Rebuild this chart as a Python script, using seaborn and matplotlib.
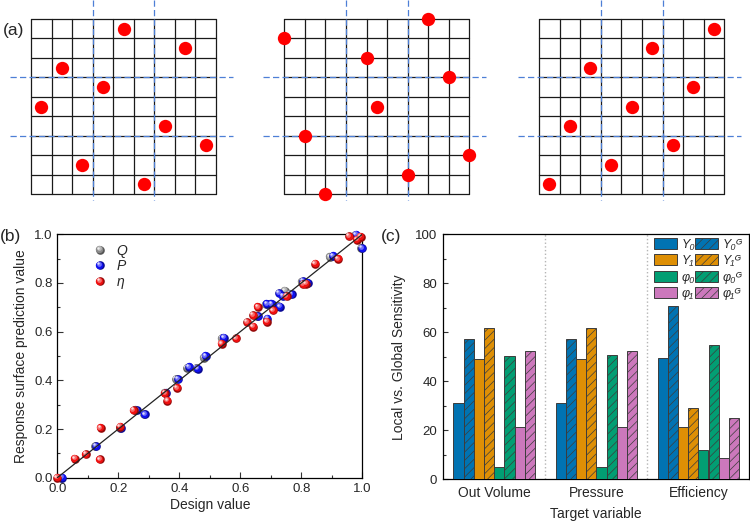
import numpy as np
import pandas as pd
import matplotlib
matplotlib.use("Agg")
import matplotlib.pyplot as plt
import matplotlib.transforms as mtransforms
import matplotlib.colors as mcolors
from matplotlib.lines import Line2D
from matplotlib.patches import Patch
from matplotlib.legend_handler import HandlerBase
import seaborn as sns

# ---------------- data ----------------
# Panel (a): sample positions (column, row from top) inside 9x9 grids
grid1_col = [4.5, 7.5, 1.5, 3.5, 0.5, 6.5, 8.5, 2.5, 5.5]
grid1_row = [0.5, 1.5, 2.5, 3.5, 4.5, 5.5, 6.5, 7.5, 8.5]
grid2_col = [7, 0, 4, 8, 4.5, 1, 9, 6, 2]
grid2_row = [0, 1, 2, 3, 4.5, 6, 7, 8, 9]
grid3_col = [8.5, 5.5, 2.5, 7.5, 4.5, 1.5, 6.5, 3.5, 0.5]
grid3_row = [0.5, 1.5, 2.5, 3.5, 4.5, 5.5, 6.5, 7.5, 8.5]

# Panel (b): design value vs response-surface prediction
Q_design = [0.012, 0.125, 0.206, 0.256, 0.283, 0.352, 0.390, 0.426, 0.455, 0.481,
            0.540, 0.654, 0.684, 0.698, 0.725, 0.746, 0.763, 0.802, 0.818, 0.894,
            0.976, 0.996]
Q_pred = [0.000, 0.130, 0.205, 0.280, 0.262, 0.350, 0.405, 0.452, 0.450, 0.493,
          0.573, 0.665, 0.713, 0.714, 0.705, 0.768, 0.755, 0.806, 0.800, 0.907,
          0.997, 0.944]
P_design = [0.016, 0.128, 0.210, 0.261, 0.287, 0.357, 0.396, 0.432, 0.460, 0.486,
            0.546, 0.659, 0.689, 0.687, 0.703, 0.730, 0.728, 0.740, 0.768, 0.806,
            0.822, 0.905, 0.980, 1.000]
P_pred = [0.000, 0.130, 0.205, 0.278, 0.260, 0.350, 0.404, 0.455, 0.448, 0.500,
          0.575, 0.664, 0.653, 0.714, 0.714, 0.703, 0.758, 0.745, 0.754, 0.807,
          0.800, 0.911, 0.998, 0.943]
eta_design = [0.000, 0.058, 0.094, 0.140, 0.142, 0.206, 0.250, 0.353, 0.361, 0.393,
              0.539, 0.587, 0.623, 0.642, 0.642, 0.658, 0.687, 0.708, 0.752, 0.806,
              0.815, 0.845, 0.921, 0.957, 0.982, 0.995]
eta_pred = [0.000, 0.078, 0.096, 0.075, 0.205, 0.210, 0.277, 0.347, 0.317, 0.369,
            0.551, 0.572, 0.639, 0.668, 0.621, 0.702, 0.641, 0.687, 0.745, 0.795,
            0.797, 0.879, 0.899, 0.992, 0.978, 0.990]

# Panel (c): local vs global sensitivity
targets = ["Out Volume", "Pressure", "Efficiency"]
Y0_local = [31.0, 31.0, 49.7]
Y0_global = [57.3, 57.3, 70.7]
Y1_local = [49.0, 49.0, 21.2]
Y1_global = [61.8, 61.9, 29.1]
phi0_local = [5.0, 5.0, 12.0]
phi0_global = [50.3, 50.6, 54.7]
phi1_local = [21.2, 21.5, 8.6]
phi1_global = [52.5, 52.4, 25.2]
legend_labels = ["Y\u2080", "Y\u2081", "\u03c6\u2080", "\u03c6\u2081",
                 "Y\u2080\u1d33", "Y\u2081\u1d33", "\u03c6\u2080\u1d33", "\u03c6\u2081\u1d33"]

# ---------------- style ----------------
sns.set_theme(style="ticks")
plt.rcParams["font.family"] = ["Liberation Sans", "DejaVu Sans"]
plt.rcParams["hatch.linewidth"] = 0.5
plt.rcParams["axes.linewidth"] = 0.9
plt.rcParams["axes.edgecolor"] = "black"

W, H = 750, 523
fig = plt.figure(figsize=(7.5, 5.23), dpi=100)


def px_axes(x0, y0, x1, y1):
    return fig.add_axes([x0 / W, (H - y1) / H, (x1 - x0) / W, (y1 - y0) / H])

# ---------------- panel (a) ----------------
grid_boxes = [(31, 19, 216, 194), (284.3, 19, 469.3, 194), (539, 19, 724.3, 194)]
grid_data = [(grid1_col, grid1_row), (grid2_col, grid2_row), (grid3_col, grid3_row)]
dash_blue = "#4d7fd6"
for (x0, y0, x1, y1), (gc, gr) in zip(grid_boxes, grid_data):
    ax = px_axes(x0, y0, x1, y1)
    ax.set_xlim(0, 9)
    ax.set_ylim(9, 0)
    ax.axis("off")
    for k in range(10):
        ax.plot([k, k], [0, 9], color="#1a1a1a", lw=0.9, zorder=1, clip_on=False)
        ax.plot([0, 9], [k, k], color="#1a1a1a", lw=0.9, zorder=1, clip_on=False)
    for k in (3, 6):
        ax.plot([k, k], [-0.98, 9.3], color=dash_blue, lw=0.9, dashes=(5, 2.6),
                zorder=2, clip_on=False)
        ax.plot([-1.03, 9.82], [k, k], color=dash_blue, lw=0.9, dashes=(5, 2.6),
                zorder=2, clip_on=False)
    sns.scatterplot(x=gc, y=gr, ax=ax, color="#ff0000", s=92, linewidth=0,
                    zorder=3, clip_on=False, legend=False)

fig.text(3 / W, 1 - 30 / H, "(a)", fontsize=12.5, va="center", ha="left")
fig.text(0 / W, 1 - 236 / H, "(b)", fontsize=12.5, va="center", ha="left")
fig.text(381 / W, 1 - 236 / H, "(c)", fontsize=12.5, va="center", ha="left")

# ---------------- panel (b) ----------------
axb = px_axes(57.3, 234.3, 362.3, 477.7)
axb.set_xlim(0, 1)
axb.set_ylim(0, 1)
axb.plot([0, 1], [0, 1], color="#222222", lw=0.9, zorder=20)

BALL = 6.2  # diameter in points
layers = [  # (diameter scale, offset fraction, white mix, darken)
    (1.00, 0.00, 0.00, 0.62),
    (0.86, -0.06, 0.00, 1.00),
    (0.55, -0.15, 0.40, 1.00),
    (0.28, -0.22, 0.85, 1.00),
]


def layer_color(color, w, dk):
    c = np.array(mcolors.to_rgb(color)) * dk
    return tuple(c * (1 - w) + w)


series = [("Q", Q_design, Q_pred, "#8a8a8a"),
          ("P", P_design, P_pred, "#1010f0"),
          ("η", eta_design, eta_pred, "#f01010")]
z = 3
for name, xs, ys, col in series:
    for sc, off, w, dk in layers:
        tr = mtransforms.offset_copy(axb.transData, fig=fig, x=off * BALL,
                                     y=-off * BALL, units="points")
        axb.scatter(xs, ys, s=(BALL * sc) ** 2, color=[layer_color(col, w, dk)],
                    linewidths=0, transform=tr, zorder=z, clip_on=False)
        z += 0.01
    z += 1


class SphereHandler(HandlerBase):
    def create_artists(self, legend, orig_handle, xdescent, ydescent, width,
                       height, fontsize, trans):
        col = orig_handle.get_markerfacecolor()
        cx = -xdescent + width / 2
        cy = -ydescent + height / 2
        arts = []
        for sc, off, w, dk in layers:
            l = Line2D([cx + off * BALL], [cy - off * BALL], marker="o",
                       markersize=BALL * sc, markerfacecolor=layer_color(col, w, dk),
                       markeredgewidth=0, linestyle="none", transform=trans)
            arts.append(l)
        return arts


b_handles = [Line2D([], [], marker="o", color=c, markerfacecolor=c, linestyle="none")
             for _, _, _, c in series]
handler = SphereHandler()
legb = axb.legend(b_handles, [s[0] for s in series],
                  handler_map={h: handler for h in b_handles},
                  loc="upper left", bbox_to_anchor=(0.117, 0.962), frameon=False,
                  borderpad=0, borderaxespad=0, handlelength=1.0, handletextpad=0.7,
                  labelspacing=0.12, prop={"style": "italic", "size": 10})

axb.xaxis.set_major_locator(matplotlib.ticker.MultipleLocator(0.2))
axb.yaxis.set_major_locator(matplotlib.ticker.MultipleLocator(0.2))
axb.xaxis.set_minor_locator(matplotlib.ticker.MultipleLocator(0.1))
axb.yaxis.set_minor_locator(matplotlib.ticker.MultipleLocator(0.1))
axb.xaxis.set_major_formatter(matplotlib.ticker.FormatStrFormatter("%.1f"))
axb.yaxis.set_major_formatter(matplotlib.ticker.FormatStrFormatter("%.1f"))
axb.tick_params(which="both", direction="in", top=False, right=False,
                labelsize=9.5, pad=3.5, width=0.8, color="#333333")
axb.tick_params(which="major", length=4)
axb.tick_params(which="minor", length=2)
axb.set_xlabel("Design value", fontsize=10, labelpad=2.5)
axb.set_ylabel("Response surface prediction value", fontsize=10, labelpad=4)

# ---------------- panel (c) ----------------
axc = px_axes(443.3, 234.3, 749.3, 479.3)
param_names = ["Y0", "Y0G", "Y1", "Y1G", "phi0", "phi0G", "phi1", "phi1G"]
param_values = [Y0_local, Y0_global, Y1_local, Y1_global,
                phi0_local, phi0_global, phi1_local, phi1_global]
cb = sns.color_palette("colorblind")
base_cols = [cb[0], cb[1], cb[2], cb[4]]
palette = {n: base_cols[i // 2] for i, n in enumerate(param_names)}
rows = []
for n, vals in zip(param_names, param_values):
    for t, v in zip(targets, vals):
        rows.append({"target": t, "param": n, "value": v})
df = pd.DataFrame(rows)

edge = "#3c3c3c"
sns.barplot(data=df, x="target", y="value", hue="param", hue_order=param_names,
            order=targets, palette=palette, saturation=1, width=0.8, ax=axc,
            edgecolor=edge, linewidth=0.7, legend=False, errorbar=None, zorder=3)
for cont, n in zip(axc.containers, param_names):
    if n.endswith("G"):
        for bar in cont:
            bar.set_hatch("////")
            bar.set_edgecolor(edge)

for xv in (0.5, 1.5):
    axc.axvline(xv, color="#b5b5b5", ls=":", lw=1.0, zorder=1)

axc.set_xlim(-0.5, 2.5)
axc.set_ylim(0, 100)
axc.yaxis.set_major_locator(matplotlib.ticker.MultipleLocator(20))
axc.yaxis.set_minor_locator(matplotlib.ticker.MultipleLocator(10))
axc.tick_params(axis="y", which="both", direction="in", right=False,
                labelsize=9.5, pad=4.5, width=0.8, color="#333333")
axc.tick_params(axis="y", which="major", length=3.5)
axc.tick_params(axis="y", which="minor", length=1.8)
axc.tick_params(axis="x", length=0, labelsize=10, pad=5)
axc.set_xlabel("Target variable", fontsize=10, labelpad=5)
axc.set_ylabel("Local vs. Global Sensitivity", fontsize=10, labelpad=6)
for sp in axc.spines.values():
    sp.set_visible(True)
    sp.set_color("black")

leg_order = ["Y0", "Y1", "phi0", "phi1", "Y0G", "Y1G", "phi0G", "phi1G"]
c_handles = [Patch(facecolor=palette[n], edgecolor=edge, linewidth=0.7,
                   hatch="////" if n.endswith("G") else None) for n in leg_order]
axc.legend(c_handles, legend_labels, ncol=2, loc="upper left",
           bbox_to_anchor=(0.688, 0.985), frameon=False, borderpad=0,
           borderaxespad=0, handlelength=1.85, handleheight=0.95, handletextpad=0.35,
           columnspacing=0.0, labelspacing=0.3, prop={"style": "italic", "size": 9})

fig.savefig("out.png", dpi=100, facecolor="white")
